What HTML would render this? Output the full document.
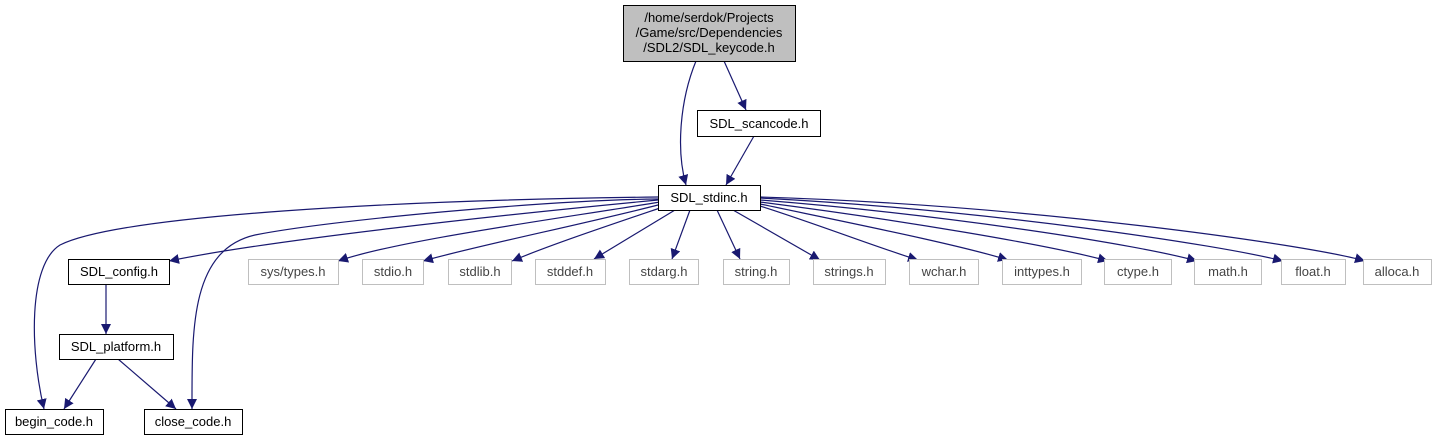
<!DOCTYPE html>
<html><head><meta charset="utf-8"><style>
html,body{margin:0;padding:0;background:#fff;}
svg{display:block;}
text{font-family:"Liberation Sans",Arial,sans-serif;font-size:13px;}
</style></head><body>
<svg width="1436" height="440" viewBox="0 0 1436 440" xmlns="http://www.w3.org/2000/svg">
<defs>
<marker id="a" viewBox="0 0 10 10" refX="10" refY="5" markerWidth="10" markerHeight="10" markerUnits="userSpaceOnUse" orient="auto">
<path d="M0,0 L10,5 L0,10 z" fill="#191970"/>
</marker>
</defs>
<g fill="none" stroke="#191970" stroke-width="1.2" marker-end="url(#a)">
<path d="M696,61 C680,100 676,150 686,185"/>
<path d="M724,61 L746,110"/>
<path d="M754,136 L726,185"/>
<path d="M658,197 C400,200 120,215 60,245 C28,265 30,350 44,409"/>
<path d="M658,199 C550,200 330,220 255,235 C190,250 192,330 192,409"/>
<path d="M658,200 C500,215 270,240 169,261"/>
<path d="M660,202 C550,220 400,240 338,261"/>
<path d="M662,204 C580,225 480,245 423,261"/>
<path d="M666,206 C610,225 550,245 512,261"/>
<path d="M675,210 L594,259"/>
<path d="M690,210 L672,259"/>
<path d="M717,210 L740,259"/>
<path d="M733,210 L820,260"/>
<path d="M760,206 C820,225 870,245 918,260"/>
<path d="M760,204 C860,225 960,245 1008,260"/>
<path d="M760,202 C900,220 1050,245 1108,261"/>
<path d="M760,200 C950,215 1140,245 1197,261"/>
<path d="M760,198 C990,210 1220,245 1283,261"/>
<path d="M760,197 C1030,205 1310,245 1365,261"/>
<path d="M106,285 L106,334"/>
<path d="M96,359 L64,409"/>
<path d="M118,359 L176,409"/>
</g>
<g stroke-width="1">
<rect x="623.5" y="5.5" width="172" height="56" fill="#bfbfbf" stroke="#000"/>
<rect x="697.5" y="110.5" width="123" height="26" fill="#fff" stroke="#000"/>
<rect x="658.5" y="185.5" width="102" height="25" fill="#fff" stroke="#000"/>
<rect x="68.5" y="259.5" width="101" height="25" fill="#fff" stroke="#000"/>
<rect x="59.5" y="334.5" width="114" height="25" fill="#fff" stroke="#000"/>
<rect x="5.5" y="409.5" width="98" height="25" fill="#fff" stroke="#000"/>
<rect x="144.5" y="409.5" width="98" height="25" fill="#fff" stroke="#000"/>
<g fill="#fff" stroke="#bfbfbf">
<rect x="248.5" y="259.5" width="90" height="25"/>
<rect x="362.5" y="259.5" width="61" height="25"/>
<rect x="448.5" y="259.5" width="63" height="25"/>
<rect x="535.5" y="259.5" width="70" height="25"/>
<rect x="629.5" y="259.5" width="69" height="25"/>
<rect x="723.5" y="259.5" width="66" height="25"/>
<rect x="813.5" y="259.5" width="72" height="25"/>
<rect x="909.5" y="259.5" width="69" height="25"/>
<rect x="1002.5" y="259.5" width="79" height="25"/>
<rect x="1104.5" y="259.5" width="67" height="25"/>
<rect x="1194.5" y="259.5" width="67" height="25"/>
<rect x="1281.5" y="259.5" width="64" height="25"/>
<rect x="1363.5" y="259.5" width="68" height="25"/>
</g>
</g>
<g text-anchor="middle" fill="#000">
<text x="709" y="22">/home/serdok/Projects</text>
<text x="709" y="37">/Game/src/Dependencies</text>
<text x="709" y="52">/SDL2/SDL_keycode.h</text>
<text x="759" y="128">SDL_scancode.h</text>
<text x="709" y="202">SDL_stdinc.h</text>
<text x="119" y="276">SDL_config.h</text>
<text x="116" y="351">SDL_platform.h</text>
<text x="54" y="426">begin_code.h</text>
<text x="193" y="426">close_code.h</text>
</g>
<g text-anchor="middle" fill="#444">
<text x="293" y="276">sys/types.h</text>
<text x="393" y="276">stdio.h</text>
<text x="480" y="276">stdlib.h</text>
<text x="570" y="276">stddef.h</text>
<text x="664" y="276">stdarg.h</text>
<text x="756" y="276">string.h</text>
<text x="849" y="276">strings.h</text>
<text x="944" y="276">wchar.h</text>
<text x="1042" y="276">inttypes.h</text>
<text x="1138" y="276">ctype.h</text>
<text x="1228" y="276">math.h</text>
<text x="1313" y="276">float.h</text>
<text x="1397" y="276">alloca.h</text>
</g>
</svg>
</body></html>
